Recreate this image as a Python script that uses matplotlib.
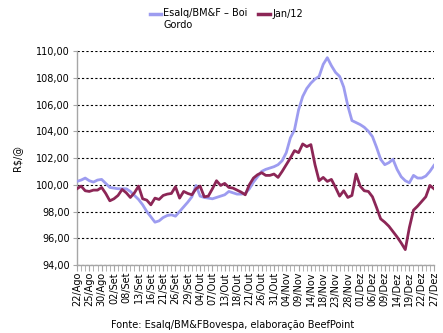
import matplotlib
matplotlib.use("Agg")
import matplotlib.pyplot as plt
from matplotlib.lines import Line2D
from matplotlib.ticker import FuncFormatter

# rótulos do eixo x: um a cada 3 pregões
datas = ["22/Ago", "25/Ago", "30/Ago", "02/Set", "08/Set", "13/Set", "16/Set", "21/Set",
         "26/Set", "29/Set", "04/Out", "07/Out", "13/Out", "18/Out", "21/Out", "26/Out",
         "31/Out", "04/Nov", "09/Nov", "14/Nov", "18/Nov", "23/Nov", "28/Nov", "01/Dez",
         "06/Dez", "09/Dez", "14/Dez", "19/Dez", "22/Dez", "27/Dez"]

# indicador Esalq/BM&F - Boi Gordo (R$/@), um valor por pregão
esalq = [100.25, 100.35, 100.5, 100.3, 100.2, 100.35, 100.4, 100.1, 99.8, 99.75,
         99.7, 99.7, 99.7, 99.5, 99.2, 98.9, 98.5, 98.0, 97.6, 97.2,
         97.3, 97.55, 97.7, 97.75, 97.65, 98.0, 98.35, 98.7, 99.1, 99.95,
         99.15, 99.05, 99.0, 98.95, 99.05, 99.15, 99.25, 99.5, 99.4, 99.3,
         99.3, 99.35, 99.7, 100.2, 100.6, 101.0, 101.15, 101.25, 101.35, 101.5,
         101.8, 102.4, 103.5, 104.1, 105.6, 106.6, 107.2, 107.6, 107.9, 108.1,
         109.0, 109.5, 108.9, 108.4, 108.1, 107.3, 105.9, 104.8, 104.65, 104.5,
         104.3, 104.0, 103.6, 102.8, 101.9, 101.5, 101.65, 101.9, 101.15, 100.6,
         100.3, 100.15, 100.7, 100.5, 100.5, 100.65, 101.0, 101.45]

# contrato futuro Jan/12 (R$/@)
jan12 = [99.7, 99.9, 99.55, 99.5, 99.6, 99.6, 99.8, 99.35, 98.8, 98.95,
         99.2, 99.65, 99.4, 99.05, 99.4, 99.9, 98.95, 98.85, 98.5, 99.0,
         98.9, 99.2, 99.3, 99.35, 99.85, 99.0, 99.5, 99.35, 99.25, 99.7,
         99.9, 99.1, 99.15, 99.7, 100.3, 99.95, 100.1, 99.8, 99.75, 99.6,
         99.45, 99.25, 100.0, 100.5, 100.75, 100.9, 100.7, 100.7, 100.8, 100.55,
         101.0, 101.5, 102.0, 102.55, 102.4, 103.05, 102.85, 103.0, 101.5, 100.3,
         100.55, 100.25, 100.4, 99.8, 99.15, 99.55, 99.05, 99.2, 100.8, 99.9,
         99.55, 99.5, 99.1, 98.3, 97.45, 97.2, 96.9, 96.5, 96.1, 95.65,
         95.15, 96.8, 98.1, 98.4, 98.75, 99.1, 99.95, 99.7]

AZUL = "#9d9cf0"
VINHO = "#8c2656"
CINZA = "#a6a6a6"

x = list(range(len(esalq)))

fig = plt.figure(figsize=(4.43, 3.33), dpi=100)
ax = fig.add_axes([77 / 443, 1 - 265 / 333, (434 - 77) / 443, (265 - 51) / 333])

ax.plot(x, esalq, color=AZUL, lw=2.0, solid_joinstyle="round", zorder=3)
ax.plot(x, jan12, color=VINHO, lw=2.0, solid_joinstyle="round", zorder=4)

ax.set_xlim(0, len(esalq) - 1)
ax.set_ylim(94, 110)
ax.set_yticks(range(94, 111, 2))
ax.yaxis.set_major_formatter(FuncFormatter(lambda v, p: f"{v:.2f}".replace(".", ",")))
ax.grid(axis="y", color="black", linestyle=(0, (2, 2)), linewidth=0.8)

ax.set_xticks(x, minor=True)
ax.set_xticks(x[::3])
ax.set_xticklabels(datas, rotation=90)
ax.tick_params(axis="x", which="both", length=4, color=CINZA, labelsize=7, pad=1)
ax.tick_params(axis="y", length=3, color=CINZA, labelsize=7, pad=2)

for s in ["top", "right"]:
    ax.spines[s].set_visible(False)
for s in ["left", "bottom"]:
    ax.spines[s].set_color(CINZA)
    ax.spines[s].set_linewidth(1.0)

ax.set_ylabel("R$/@", fontsize=7, labelpad=10)

# legenda no topo
fig.add_artist(Line2D([150 / 443, 161 / 443], [1 - 14 / 333] * 2, color=AZUL, lw=2.5,
                      transform=fig.transFigure))
fig.text(163 / 443, 1 - 8 / 333, "Esalq/BM&F – Boi\nGordo", fontsize=7,
         va="top", ha="left", linespacing=1.3)
fig.add_artist(Line2D([258 / 443, 270 / 443], [1 - 14 / 333] * 2, color=VINHO, lw=2.5,
                      transform=fig.transFigure))
fig.text(272 / 443, 1 - 14 / 333, "Jan/12", fontsize=7, va="center", ha="left")

fig.text(233 / 443, 1 - 325 / 333, "Fonte: Esalq/BM&FBovespa, elaboração BeefPoint",
         fontsize=7, ha="center", va="center")

fig.savefig("out.png", dpi=100)
